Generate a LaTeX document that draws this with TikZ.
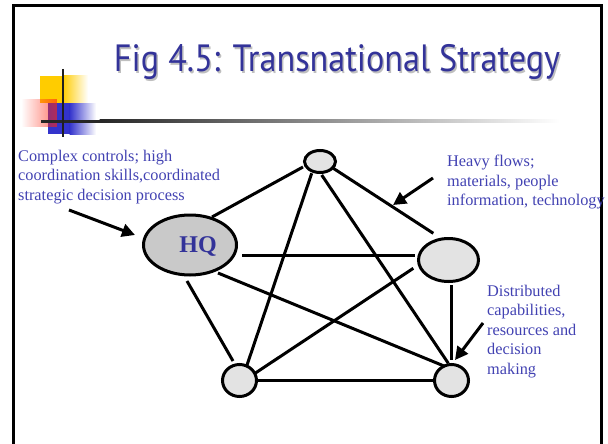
\documentclass[tikz,border=0pt]{standalone}
\usepackage{fontspec}
\setmainfont{Liberation Serif}
\newfontfamily\titlefont{PT Sans}
\usetikzlibrary{arrows.meta,calc,shapes.geometric,fadings}

\definecolor{titleblue}{RGB}{51,51,153}
\definecolor{labelblue}{RGB}{66,66,178}
\definecolor{decoyellow}{RGB}{255,204,0}
\definecolor{decoblue}{RGB}{51,51,204}
\definecolor{decored}{RGB}{255,40,20}

\tikzfading[name=redfade, left color=transparent!100, right color=transparent!15]

\tikzset{
  site/.style={ellipse, draw=black, line width=3pt, fill=gray!22, inner sep=0pt},
  hqsite/.style={site, fill=gray!42},
  link/.style={line width=3pt},
  pointer/.style={line width=3pt, -{Triangle[length=13pt,width=13pt]}},
  note/.style={text=labelblue, font=\fontsize{16.3}{19.4}\selectfont, align=left, inner sep=0pt},
  titletext/.style={font=\titlefont\fontsize{38}{40}\selectfont, anchor=base, xscale=0.9, transform shape},
}

\begin{document}
\begin{tikzpicture}[x=1pt,y=-1pt]
\useasboundingbox (0,0) rectangle (608,444);

% slide frame
\draw[line width=3pt] (13.5,450) -- (13.5,6) -- (601,6) -- (601,450);

% corner ornament
\fill[decoyellow] (40,76) rectangle (63,103);
\shade[left color=decoyellow, right color=white] (62.5,76) rectangle (88,103);
\fill[decoblue] (48,103) rectangle (70,134);
\shade[left color=decoblue, right color=white] (69.5,103) rectangle (96,134);
\fill[decored, path fading=redfade, fill opacity=0.75] (21,99) rectangle (57,127);
\fill[black!85] (41,119.5) rectangle (100,122.5);
\shade[left color=black!85, right color=white] (99.5,119.5) rectangle (560,122.5);
\draw[line width=2.5pt, black!88] (63,69) -- (63,137);

% title with shadow
\node[titletext, text=black!25] (titleshadow) at (338.5,73.5) {Fig 4.5: Transnational Strategy};
\node[titletext, text=titleblue] (title) at (337,72) {Fig 4.5: Transnational Strategy};

% sites
\node[hqsite, minimum width=93pt, minimum height=60pt] (hq) at (190,245) {};
\node[font=\bfseries\fontsize{24}{24}\selectfont, text=titleblue] (hqtext) at (198,246) {HQ};
\node[site, minimum width=31pt, minimum height=22pt] (top) at (320,161.5) {};
\node[site, minimum width=60pt, minimum height=43pt] (rt) at (448.5,260) {};
\node[site, minimum width=34pt, minimum height=32pt] (bl) at (239.5,380.5) {};
\node[site, minimum width=34pt, minimum height=32pt] (br) at (451.5,380.5) {};

% links between every pair of sites
\draw[link] ($(hq)+(22,-28)$) -- ($(top)+(-17,5.5)$);
\draw[link] ($(hq)+(52,10.5)$) -- ($(rt)+(-33.5,-4.5)$);
\draw[link] ($(hq)+(-3,36)$) -- ($(bl)+(-6.5,-19.5)$);
\draw[link] ($(hq)+(28,28)$) -- ($(br)+(-7.5,-14.5)$);
\draw[link] ($(top)+(-8.3,11.8)$) -- ($(bl)+(7.2,-14.5)$);
\draw[link] ($(top)+(1.7,13.5)$) -- ($(br)+(-3.2,-17.2)$);
\draw[link] ($(top)+(13.3,6.8)$) -- ($(rt)+(-15.2,-26.7)$);
\draw[link] ($(rt)+(-35.2,8.3)$) -- ($(bl)+(15.5,-7.2)$);
\draw[link] ($(rt)+(3.2,25)$) -- ($(br)+(0.2,-20.5)$);
\draw[link] ($(bl)+(18.5,-0.5)$) -- ($(br)+(-18.5,-0.5)$);

% notes (anchored at the baseline of their last line)
\node[note, anchor=base west] (ctrl) at (18,200) {Complex controls; high\\coordination skills,coordinated\\strategic decision process};
\node[note, anchor=base west] (flows) at (447,205.5) {Heavy flows;\\materials, people\\information, technology};
\node[note, anchor=base west] (dist) at (487,374) {Distributed\\capabilities,\\resources and\\decision\\making};

% pointers
\coordinate (ctrlfoot) at (69,210);
\coordinate (flowfoot) at (433,178);
\coordinate (flowtip) at (393,205);
\coordinate (distfoot) at (483,323);
\draw[pointer] (ctrlfoot) -- ($(hq)+(-55,-10)$);
\draw[pointer] (flowfoot) -- (flowtip);
\draw[pointer] (distfoot) -- ($(br)+(3.5,-20.5)$);
\end{tikzpicture}
\end{document}
